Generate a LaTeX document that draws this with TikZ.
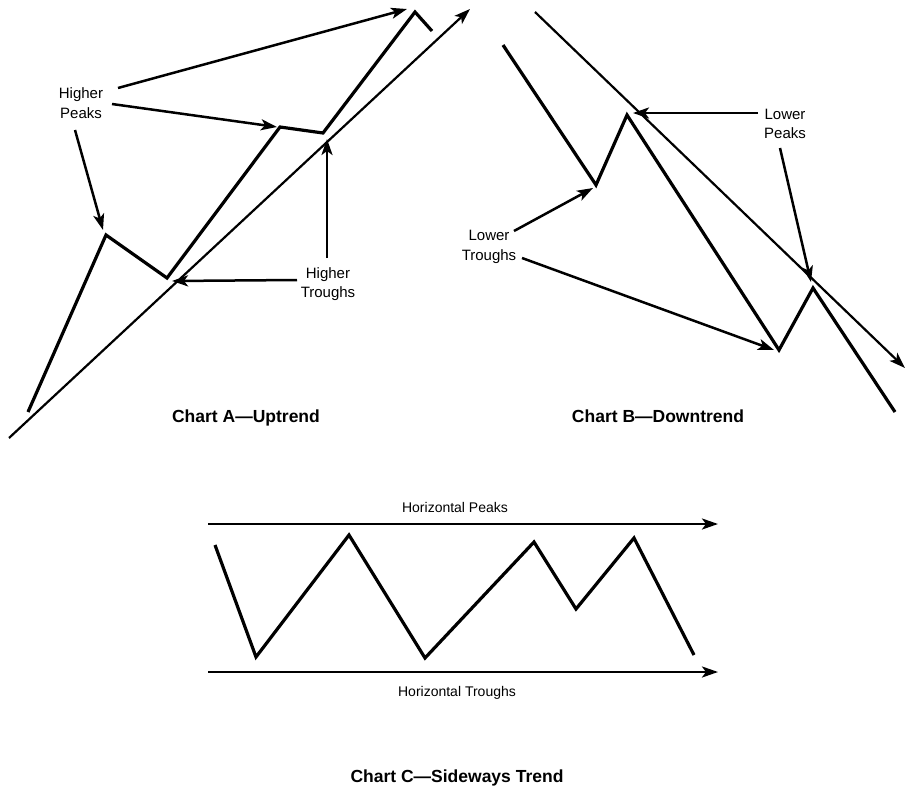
\documentclass[tikz,border=0pt]{standalone}
\usepackage{fontspec}
\setmainfont{Liberation Sans}
\usetikzlibrary{arrows.meta}
\begin{document}
\begin{tikzpicture}[x=1pt,y=-1pt,
  price/.style={line width=3.2pt,line join=miter},
  trend/.style={line width=2.2pt},
  tip/.style={-{Stealth[length=16pt,width=11pt,inset=4pt]}},
  callout/.style={line width=2.5pt,tip},
  lbl/.style={font=\fontsize{15}{19.5}\selectfont,align=center,inner sep=0pt},
  hlbl/.style={font=\fontsize{14}{17}\selectfont,inner sep=0pt,anchor=base},
  ttl/.style={font=\fontsize{17.5}{20}\selectfont\bfseries,inner sep=0pt,anchor=base}]
\useasboundingbox (0,0) rectangle (905,787);

% ---------------- Chart A ----------------
\coordinate (a0) at (28,412);
\coordinate (a1) at (106,235);
\coordinate (a2) at (167,278);
\coordinate (a3) at (280,127);
\coordinate (a4) at (323,133);
\coordinate (a5) at (415,12);
\coordinate (a6) at (432,31);
\draw[price] (a0)--(a1)--(a2)--(a3)--(a4)--(a5)--(a6);
\coordinate (ta0) at (9,438);
\coordinate (ta1) at (470,9);
\draw[trend,tip] (ta0)--(ta1);

\node[lbl] (hp) at (81,103) {Higher\\Peaks};
\coordinate (hp1) at (118,88);
\coordinate (hp1e) at (407,9);
\coordinate (hp2) at (112,104);
\coordinate (hp2e) at (277,127);
\coordinate (hp3) at (75,130);
\coordinate (hp3e) at (103,230);
\draw[callout] (hp1)--(hp1e);
\draw[callout] (hp2)--(hp2e);
\draw[callout] (hp3)--(hp3e);

\node[lbl] (ht) at (328,284) {Higher\\Troughs};
\coordinate (ht1) at (297,280);
\coordinate (ht1e) at (172,281);
\coordinate (ht2) at (327,258);
\coordinate (ht2e) at (327,139);
\draw[callout] (ht1)--(ht1e);
\draw[callout] (ht2)--(ht2e);

\node[ttl] (ta) at (246,422) {Chart A—Uptrend};

% ---------------- Chart B ----------------
\coordinate (b0) at (503,45);
\coordinate (b1) at (596,185);
\coordinate (b2) at (627,115);
\coordinate (b3) at (779,350);
\coordinate (b4) at (813,288);
\coordinate (b5) at (895,412);
\draw[price] (b0)--(b1)--(b2)--(b3)--(b4)--(b5);
\coordinate (tb0) at (535,12);
\coordinate (tb1) at (905,368);
\draw[trend,tip] (tb0)--(tb1);

\node[lbl] (lp) at (785,124) {Lower\\Peaks};
\coordinate (lp1) at (758,113);
\coordinate (lp1e) at (633,113);
\coordinate (lp2) at (780,148);
\coordinate (lp2e) at (811,282);
\draw[callout] (lp1)--(lp1e);
\draw[callout] (lp2)--(lp2e);

\node[lbl] (lt) at (489,247) {Lower\\Troughs};
\coordinate (lt1) at (514,231);
\coordinate (lt1e) at (593,188);
\coordinate (lt2) at (522,258);
\coordinate (lt2e) at (774,350);
\draw[callout] (lt1)--(lt1e);
\draw[callout] (lt2)--(lt2e);

\node[ttl] (tbt) at (658,422) {Chart B—Downtrend};

% ---------------- Chart C ----------------
\coordinate (c0) at (215,545);
\coordinate (c1) at (256,657);
\coordinate (c2) at (349,535);
\coordinate (c3) at (425,658);
\coordinate (c4) at (534,542);
\coordinate (c5) at (576,609);
\coordinate (c6) at (634,538);
\coordinate (c7) at (694,655);
\draw[price] (c0)--(c1)--(c2)--(c3)--(c4)--(c5)--(c6)--(c7);

\coordinate (hp0) at (208,524);
\coordinate (hpe) at (718,524);
\coordinate (htr0) at (208,672);
\coordinate (htre) at (718,672);
\draw[callout] (hp0)--(hpe);
\draw[callout] (htr0)--(htre);

\node[hlbl] (hpk) at (455,512.5) {Horizontal Peaks};
\node[hlbl] (htr) at (457,696.5) {Horizontal Troughs};

\node[ttl] (tc) at (457,782) {Chart C—Sideways Trend};
\end{tikzpicture}
\end{document}
